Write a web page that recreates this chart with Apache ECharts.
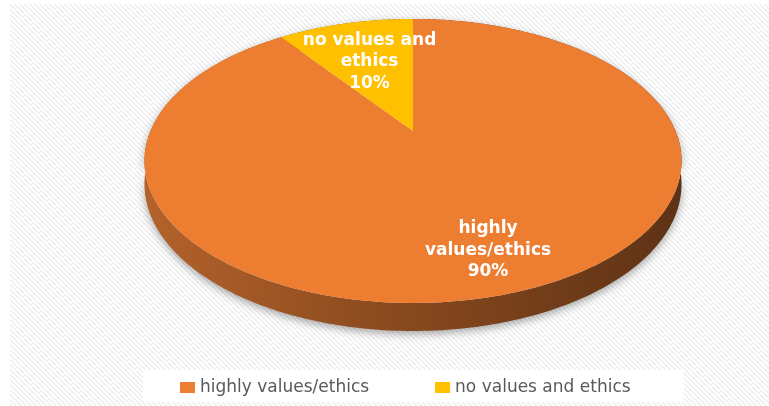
<!DOCTYPE html>
<html><head><meta charset="utf-8">
<script src="https://cdn.jsdelivr.net/npm/echarts@6/dist/echarts.min.js"></script>
<style>html,body{margin:0;padding:0;background:#fff}#c{width:769px;height:406px}</style>
</head><body><div id="c"></div>
<script>
const categories = ['highly values/ethics', 'no values and ethics'];
const values = [90, 10];
const labelNames = ['highly\nvalues/ethics', 'no values and\nethics'];

const topColors = ['#ED7D31', '#FFC000'];
const sideColors = [['#B4622B', '#8A4A1E', '#5E3216'], ['#B88A00', '#8F6B00', '#6B5000']];
const labelRadius = [0.78, 0.6];

const CX = 413, CY = 131, RX = 262.5, RY = 135.7, PERSP = 0.211, DEPTH = 22.1;

function proj(phi, r, dz) {
  const u = r * Math.sin(phi), v = -r * Math.cos(phi);
  const w = 1 / (1 - PERSP * v);
  return [CX + RX * u * w, CY + RY * v * w + DEPTH * w * dz];
}

const total = values.reduce((a, b) => a + b, 0);
const starts = [];
values.reduce((acc, v, i) => { starts[i] = acc; return acc + v; }, 0);

// stripe pattern
const pc = document.createElement('canvas');
pc.width = 10; pc.height = 10;
const pctx = pc.getContext('2d');
pctx.fillStyle = '#ffffff'; pctx.fillRect(0, 0, 10, 10);
pctx.fillStyle = '#eeeeee';
for (let y = 0; y < 10; y++) for (let x = 0; x < 10; x++) {
  if ((((x - y) % 5) + 5) % 5 < 2) pctx.fillRect(x, y, 1, 1);
}

function makeRender(i) {
  return function (params, api) {
    const val = api.value(0), start = api.value(1), tot = api.value(2);
    const a0 = start / tot * Math.PI * 2, a1 = (start + val) / tot * Math.PI * 2;
    const n = Math.max(4, Math.ceil((a1 - a0) / (Math.PI / 180)));
    const topArc = [], botArc = [];
    for (let k = 0; k <= n; k++) {
      const a = a0 + (a1 - a0) * k / n;
      topArc.push(proj(a, 1, 0));
      botArc.push(proj(a, 1, 1));
    }
    const side = topArc.concat(botArc.slice().reverse());
    const top = [[CX, CY]].concat(topArc);
    const sc = sideColors[i];
    const am = (a0 + a1) / 2;
    const lp = proj(am, labelRadius[i], 0);
    const pct = Math.round(val / tot * 100) + '%';
    return {
      type: 'group',
      children: [
        {
          type: 'polygon', z2: 0,
          shape: { points: side },
          style: {
            fill: { type: 'linear', x: 145, y: 0, x2: 683, y2: 0, global: true,
              colorStops: [{ offset: 0, color: sc[0] }, { offset: 0.45, color: sc[1] }, { offset: 1, color: sc[2] }] },
            shadowBlur: 8, shadowColor: 'rgba(0,0,0,0.35)', shadowOffsetY: 3
          }
        },
        {
          type: 'polygon', z2: 10,
          shape: { points: top },
          style: { fill: topColors[i] }
        },
        {
          type: 'text', z2: 20, x: lp[0], y: lp[1],
          style: {
            text: labelNames[i] + '\n' + pct,
            fill: '#ffffff', fontFamily: 'DejaVu Sans', fontWeight: 'bold', fontSize: 17,
            lineHeight: 21.5, align: 'center', verticalAlign: 'middle'
          }
        }
      ]
    };
  };
}

const chart = echarts.init(document.getElementById('c'), null, { renderer: 'canvas' });
chart.setOption({
  animation: false,
  backgroundColor: '#ffffff',
  graphic: [{
    type: 'rect', z: -10, silent: true,
    shape: { x: 10, y: 4, width: 759, height: 402 },
    style: { fill: { type: 'pattern', image: pc, repeat: 'repeat' } }
  }],
  legend: {
    top: 370, left: 143,
    backgroundColor: '#ffffff',
    padding: [9, 53, 6, 37],
    itemGap: 66, itemWidth: 15, itemHeight: 11, icon: 'rect',
    textStyle: { color: '#595959', fontFamily: 'DejaVu Sans', fontSize: 17 },
    data: categories
  },
  series: categories.map((name, i) => ({
    type: 'custom', name: name, coordinateSystem: 'none',
    itemStyle: { color: topColors[i] },
    renderItem: makeRender(i),
    data: [[values[i], starts[i], total]]
  }))
});
</script></body></html>
